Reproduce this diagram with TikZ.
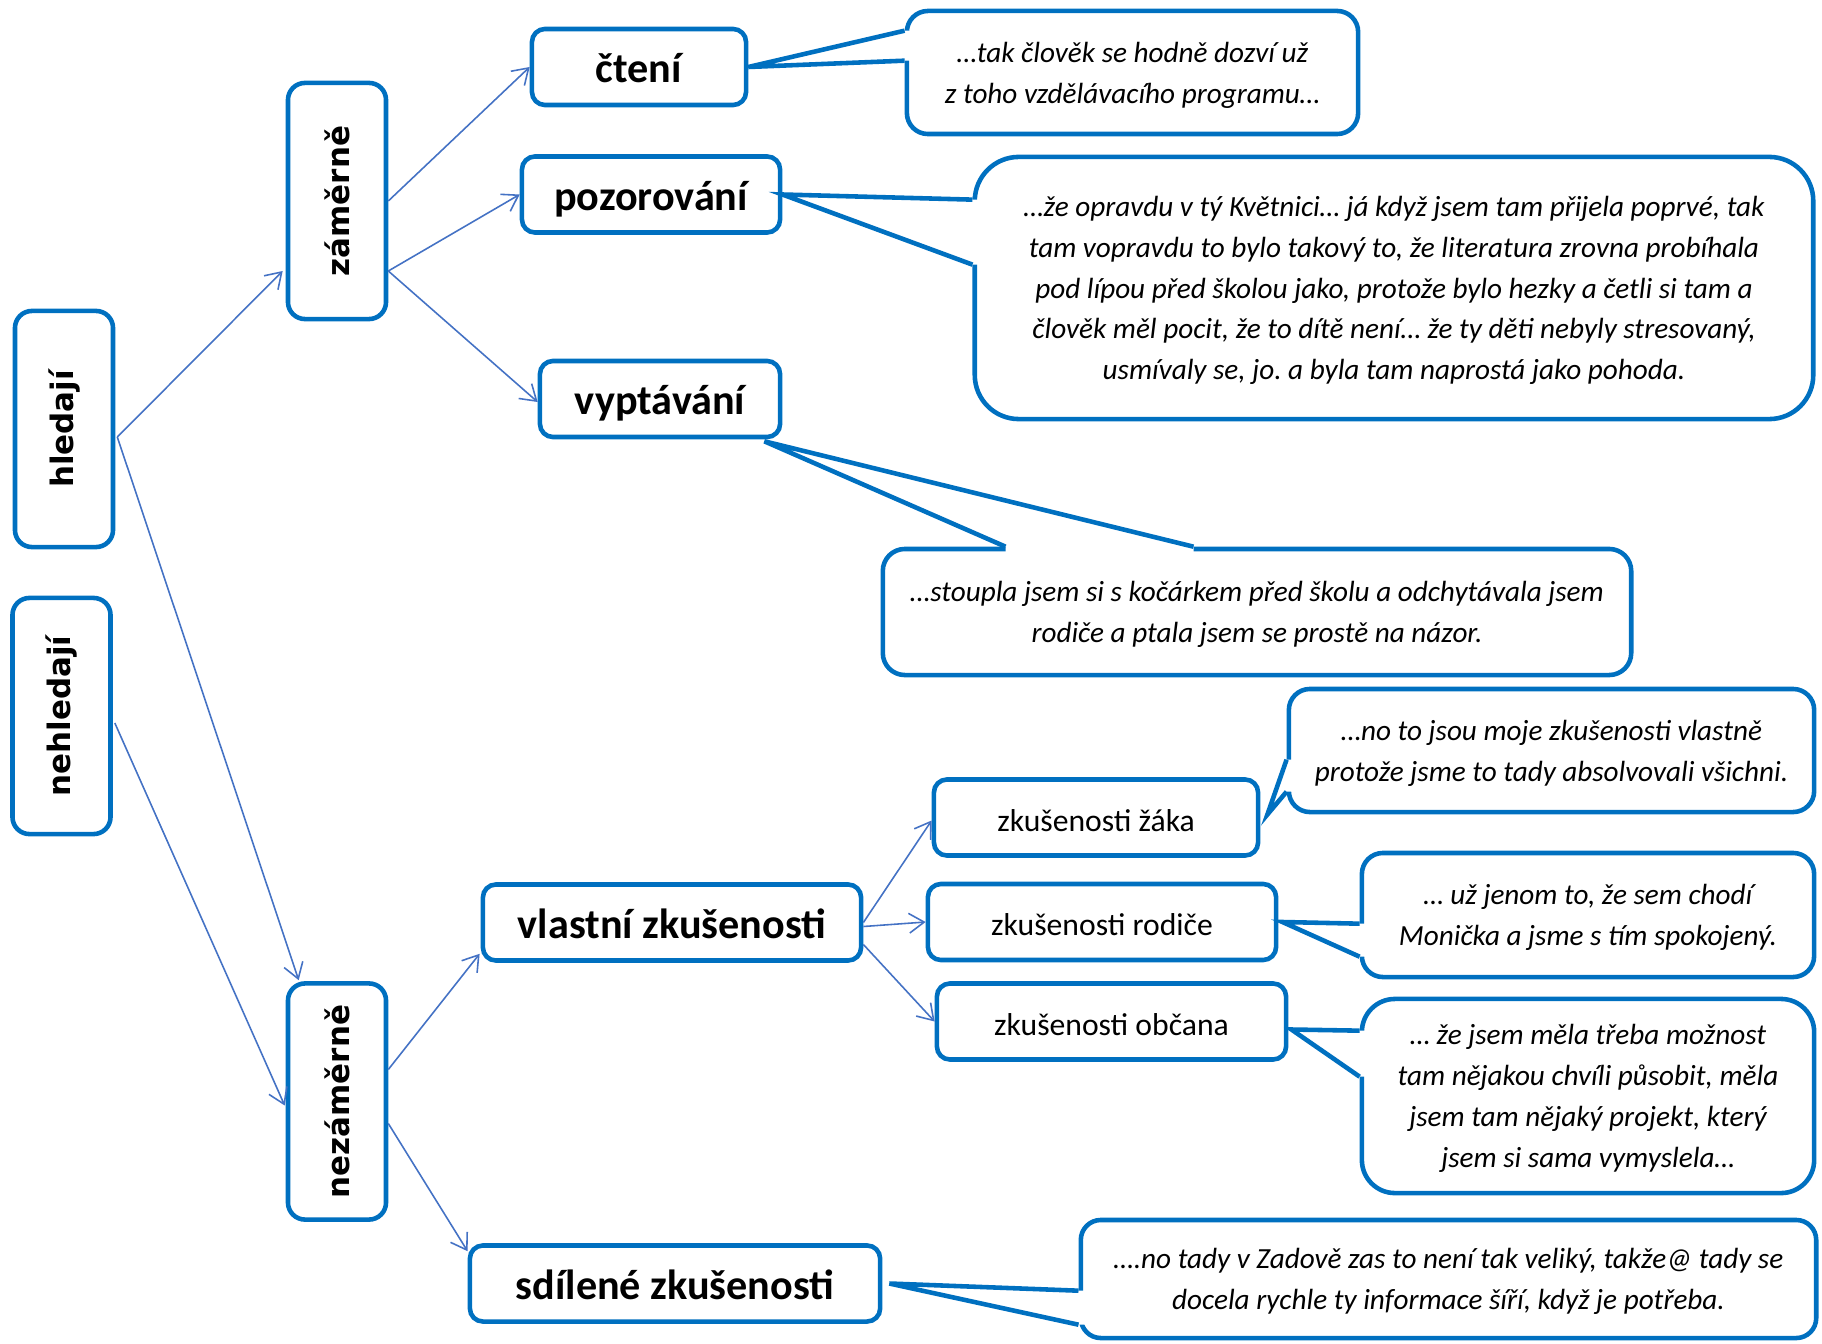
\documentclass[tikz,border=0pt]{standalone}
\usepackage{fontspec}
\usepackage{graphicx}
\setmainfont{Carlito}
\newfontfamily\vertfont{DejaVu Sans}
\frenchspacing
\usetikzlibrary{positioning, calc, arrows.meta}
\definecolor{boxblue}{RGB}{0,112,192}
\definecolor{linkblue}{RGB}{68,114,196}
\tikzstyle{keybox} = [rectangle, rounded corners=0.13cm, minimum height=0.76cm, text height=9pt, text depth=0pt, text centered, draw=boxblue, fill=white, line width=1.3pt, font=\bfseries\fontsize{12}{14}\selectfont]
\tikzstyle{subbox} = [keybox, text height=7.8pt, font=\fontsize{9}{11}\selectfont]
\tikzstyle{vertbox} = [keybox, rounded corners=0.17cm, minimum width=0.98cm, minimum height=2.36cm, text height=, text depth=, font=\vertfont\bfseries\fontsize{8.8}{10}\selectfont]
\tikzstyle{quote} = [rectangle, draw=boxblue, fill=white, line width=1.3pt, align=center, text depth=-3.6pt, font=\itshape\fontsize{8.3}{11.6}\selectfont]
\tikzstyle{arrow} = [linkblue, line width=0.45pt, -{Straight Barb[length=4.3pt,width=5.6pt]}]
\tikzstyle{tailline} = [draw=boxblue, line width=1.3pt, line join=miter]
% tail of a callout: base a, base b, tip, shift into the box
\newcommand{\calltail}[4]{%
  \fill[white] (#1) -- (#3) -- (#2) -- ($(#2)+#4$) -- ($(#1)+#4$) -- cycle;
  \draw[tailline] (#1) -- (#3) -- (#2);}

\begin{document}
\begin{tikzpicture}[x=0.01cm, y=-0.01cm]
\useasboundingbox (0,0) rectangle (1822,1343);

% left column
\node (hled) [vertbox] at (64,429) {\rotatebox{90}{hledají}};
\node (nehled) [vertbox] at (61.5,716) {\rotatebox{90}{nehledají}};
\node (zam) [vertbox] at (337,201) {\rotatebox{90}{záměrně}};
\node (nezam) [vertbox] at (337,1101.5) {\rotatebox{90}{nezáměrně}};

% ways
\node (cten) [keybox, minimum width=2.14cm] at (639,67) {čtení};
\node (pozor) [keybox, minimum width=2.58cm] at (651,194.5) {pozorování};
\node (vypt) [keybox, minimum width=2.40cm] at (660,399) {vyptávání};
\node (vlast) [keybox, minimum width=3.78cm] at (672,922.5) {vlastní zkušenosti};
\node (sdil) [keybox, minimum width=4.10cm] at (675,1283.5) {sdílené zkušenosti};
\node (zaka) [subbox, minimum width=3.24cm] at (1096,817.5) {zkušenosti žáka};
\node (rod) [subbox, minimum width=3.48cm] at (1102,922) {zkušenosti rodiče};
\node (obc) [subbox, minimum width=3.49cm] at (1111.5,1021.5) {zkušenosti občana};

\draw [arrow] ($(hled.east)+(2,8)$) -- ($(zam.west)+(-3,70)$);
\draw [arrow] ($(hled.east)+(2,8)$) -- ($(nezam.north west)+(13,-1)$);
\draw [arrow] ($(nehled.east)+(2,7)$) -- ($(nezam.west)+(-1,4)$);
\draw [arrow] (zam.east) -- (cten.west);
\draw [arrow] ($(zam.east)+(0,70)$) -- (pozor.west);
\draw [arrow] ($(zam.east)+(0,70)$) -- ($(vypt.west)+(0,3)$);
\draw [arrow] ($(nezam.east)+(0,-32)$) -- ($(vlast.south west)+(-1,-9)$);
\draw [arrow] ($(nezam.east)+(0,22)$) -- ($(sdil.north west)+(0,8)$);
\draw [arrow] (vlast.east) -- ($(zaka.west)+(0,3)$);
\draw [arrow] ($(vlast.east)+(0,4)$) -- (rod.west);
\draw [arrow] ($(vlast.east)+(0,22)$) -- (obc.west);

% quotes
\node (q1) [quote, rounded corners=0.21cm, minimum width=4.51cm, minimum height=1.23cm] at (1132.5,72.5)
  {…tak člověk se hodně dozví už\\ z toho vzdělávacího programu…};
\node (q2) [quote, rounded corners=0.44cm, minimum width=8.38cm, minimum height=2.62cm] at (1394,288)
  {…že opravdu v tý Květnici… já když jsem tam přijela poprvé, tak\\ tam vopravdu to bylo takový to, že literatura zrovna probíhala\\ pod lípou před školou jako, protože bylo hezky a četli si tam a\\ člověk měl pocit, že to dítě není… že ty děti nebyly stresovaný,\\ usmívaly se, jo. a byla tam naprostá jako pohoda.};
\node (q3) [quote, rounded corners=0.22cm, minimum width=7.48cm, minimum height=1.26cm] at (1257,612)
  {…stoupla jsem si s kočárkem před školu a odchytávala jsem\\ rodiče a ptala jsem se prostě na názor.};
\node (q4) [quote, rounded corners=0.21cm, minimum width=5.25cm, minimum height=1.23cm] at (1551.5,750.5)
  {…no to jsou moje zkušenosti vlastně\\ protože jsme to tady absolvovali všichni.};
\node (q5) [quote, rounded corners=0.21cm, minimum width=4.52cm, minimum height=1.24cm] at (1588,915)
  {… už jenom to, že sem chodí\\ Monička a jsme s tím spokojený.};
\node (q6) [quote, rounded corners=0.33cm, minimum width=4.52cm, minimum height=1.94cm] at (1588,1096)
  {… že jsem měla třeba možnost\\ tam nějakou chvíli působit, měla\\ jsem tam nějaký projekt, který\\ jsem si sama vymyslela…};
\node (q7) [quote, rounded corners=0.20cm, minimum width=7.35cm, minimum height=1.18cm] at (1448.5,1279)
  {….no tady v Zadově zas to není tak veliký, takže@ tady se\\ docela rychle ty informace šíří, když je potřeba.};

% tails
\coordinate (q1a) at ($(q1.north west)+(0,22)$);
\coordinate (q1b) at ($(q1.north west)+(0,52)$);
\coordinate (q2a) at ($(q2.north west)+(0,45)$);
\coordinate (q2b) at ($(q2.north west)+(0,110)$);
\coordinate (q3a) at ($(q3.north west)+(125,0)$);
\coordinate (q3b) at ($(q3.north west)+(313,0)$);
\coordinate (q4a) at ($(q4.north west)+(0,73)$);
\coordinate (q4b) at ($(q4.north west)+(0,105)$);
\coordinate (q5a) at ($(q5.north west)+(0,73)$);
\coordinate (q5b) at ($(q5.north west)+(0,106)$);
\coordinate (q6a) at ($(q6.north west)+(0,34)$);
\coordinate (q6b) at ($(q6.north west)+(0,80)$);
\coordinate (q7a) at ($(q7.north west)+(0,73)$);
\coordinate (q7b) at ($(q7.north west)+(0,107)$);
\coordinate (t3) at ($(vypt.south east)+(-18,2)$);
\coordinate (t4) at ($(zaka.east)+(7,-3)$);
\coordinate (t5) at ($(rod.east)+(4,0)$);
\coordinate (t6) at ($(obc.east)+(3,8)$);
\coordinate (t7) at ($(sdil.east)+(7,0)$);

\calltail{q1a}{q1b}{cten.east}{(7,0)}
\calltail{q2a}{q2b}{pozor.east}{(7,0)}
\calltail{q3a}{q3b}{t3}{(0,7)}
\calltail{q4a}{q4b}{t4}{(7,0)}
\calltail{q5a}{q5b}{t5}{(7,0)}
\calltail{q6a}{q6b}{t6}{(7,0)}
\calltail{q7a}{q7b}{t7}{(7,0)}

\end{tikzpicture}
\end{document}
